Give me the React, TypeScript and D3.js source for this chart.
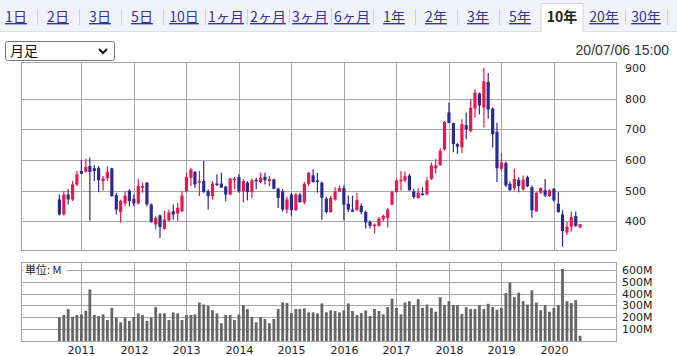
import React from "react";
import * as d3 from "d3";

const W = 677;
const H = 356;

const tabLabels = ["1日", "2日", "3日", "5日", "10日", "1ヶ月", "2ヶ月", "3ヶ月", "6ヶ月", "1年", "2年", "3年", "5年", "10年", "20年", "30年"];
const activeTab = "10年";
const periodLabel = "月足";
const timestamp = "20/07/06 15:00";
const volumeUnit = "単位: M";

const firstMonth = new Date(2010, 7, 1);
const months = d3.timeMonth.range(firstMonth, new Date(2020, 7, 1));

const openP = [471,422,487,471,520,564,562,580,573,573,531,540,573,485,430,458,500,473,458,509,526,455,389,419,375,403,433,425,433,498,542,561,526,531,498,482,523,523,513,487,535,544,498,526,495,535,528,545,531,537,506,498,438,487,436,487,462,522,550,533,526,474,430,471,497,508,457,438,436,450,430,398,384,385,407,411,454,495,530,533,549,497,476,490,488,538,573,584,634,755,720,652,641,714,695,768,817,771,855,768,692,571,590,522,508,535,504,544,511,432,493,501,482,506,457,422,363,382,417,380];
const highP = [487,498,504,531,564,600,604,608,583,580,548,578,575,493,471,498,504,487,539,526,528,458,416,422,433,438,455,460,498,558,575,564,564,597,504,531,553,558,515,542,545,553,537,531,539,542,558,558,548,539,509,504,481,493,493,493,528,561,570,558,530,479,483,511,517,517,484,484,492,458,435,403,393,414,422,443,500,538,564,562,555,506,508,511,544,592,603,638,728,787,722,655,733,755,798,830,820,900,884,771,722,623,595,530,571,544,549,549,517,497,511,538,504,508,495,436,398,432,432,392];
const lowP = [419,419,455,466,515,553,558,402,531,495,500,531,480,422,395,449,449,449,455,493,449,395,373,345,373,400,405,400,430,493,515,509,482,493,438,471,515,509,465,485,504,493,462,468,476,504,524,520,515,504,443,432,425,416,433,460,455,516,526,493,405,425,428,467,495,403,430,430,434,423,376,376,360,382,400,380,452,493,500,527,500,473,473,484,484,535,555,580,631,720,625,620,623,668,690,738,749,706,735,641,528,565,512,500,500,495,500,512,411,430,490,479,479,463,428,317,355,366,381,377];
const closeP = [422,487,471,520,553,555,577,561,564,534,540,561,482,438,466,484,466,458,515,515,455,397,411,381,405,429,422,444,484,544,569,520,531,495,482,523,520,510,487,539,539,498,531,495,534,531,542,534,537,506,476,438,471,436,487,462,522,558,528,528,477,430,476,497,508,454,438,431,470,430,396,385,389,409,418,438,495,533,536,547,501,479,493,485,533,582,582,630,724,721,652,644,717,700,771,820,778,857,765,684,573,592,517,501,538,515,536,514,436,493,508,484,501,468,430,368,382,414,385,390];
const volumeM = [200,220,270,205,220,225,255,435,220,210,225,178,280,198,158,198,170,203,233,220,170,198,286,233,233,178,242,233,178,220,220,225,325,308,297,260,233,150,220,220,178,225,303,270,203,158,203,186,150,186,270,325,320,236,270,270,275,242,242,233,317,242,258,253,242,260,317,253,220,236,258,211,270,253,225,286,358,280,225,325,336,303,353,280,308,280,247,370,303,336,303,303,228,286,270,270,303,270,314,286,264,280,405,492,370,408,336,308,428,325,260,303,247,280,303,608,336,320,345,44];

const yearTicks = [2011, 2012, 2013, 2014, 2015, 2016, 2017, 2018, 2019, 2020];
const priceGrid = [400, 500, 600, 700, 800];
const priceLabels = [400, 500, 600, 700, 800, 900];
const volumeTicks = [100, 200, 300, 400, 500, 600];

const UP = "#e8184c";
const DOWN = "#2a2a92";
const GRID = "#a6a6a6";
const LINK = "#34349c";

const plotL = 21;
const plotR = 616;
const priceT = 62;
const priceB = 250;
const volT = 262;
const volB = 341;

export default function App() {
  const x = d3.scaleTime().domain([new Date(2009, 10, 7), new Date(2021, 2, 8)]).range([plotL, plotR]);
  const y = d3.scaleLinear().domain([306, 920]).range([priceB, priceT]);
  const yv = d3.scaleLinear().domain([0, 667]).range([volB, volT]);
  const bodyW = 3.2;
  const barW = 2.8;

  return (
    <svg width={W} height={H} style={{ position: "absolute", left: 0, top: 0, background: "#fff" }}>
      {/* tab bar */}
      <rect x={0} y={0} width={W} height={31} fill="#f2f3f8" />
      <line x1={0} x2={W} y1={31.5} y2={31.5} stroke="#dcdde6" />
      {tabLabels.map((t, k) => {
        const cx = 16 + 42 * k;
        const active = t === activeTab;
        return (
          <g key={t}>
            {active && (
              <path d={`M${cx - 21},32 V3.5 H${cx + 21} V32`} fill="#fff" stroke="#d4d5de" />
            )}
            {!active && k < tabLabels.length - 1 && tabLabels[k + 1] !== activeTab && (
              <line x1={cx + 21.5} x2={cx + 21.5} y1={9} y2={25} stroke="#d0d0d8" />
            )}
            {k === tabLabels.length - 1 && (
              <line x1={cx + 21.5} x2={cx + 21.5} y1={9} y2={25} stroke="#d0d0d8" />
            )}
            <text
              x={cx}
              y={22}
              textAnchor="middle"
              fontFamily="'Noto Sans CJK JP', sans-serif"
              fontSize={14}
              fontWeight={active ? 700 : 400}
              fill={active ? "#222" : LINK}
              style={{ textDecoration: active ? "none" : "underline" }}
            >
              {t}
            </text>
          </g>
        );
      })}

      {/* dropdown */}
      <rect x={5.5} y={41.5} width={109} height={19} rx={2} fill="#fff" stroke="#767676" />
      <text x={10} y={56} fontFamily="'Noto Sans CJK JP', sans-serif" fontSize={14} fill="#111">
        {periodLabel}
      </text>
      <path d="M99,49 L103,53 L107,49" fill="none" stroke="#111" strokeWidth={2} />

      <text x={669} y={55} textAnchor="end" fontFamily="'Liberation Sans', Arial, sans-serif" fontSize={14} fill="#333">
        {timestamp}
      </text>

      {/* price panel */}
      <rect x={plotL + 0.5} y={priceT + 0.5} width={plotR - plotL} height={priceB - priceT} fill="#fff" stroke={GRID} />
      {priceGrid.map((p) => (
        <line key={p} x1={plotL} x2={plotR} y1={Math.round(y(p)) + 0.5} y2={Math.round(y(p)) + 0.5} stroke={GRID} />
      ))}
      {yearTicks.map((yr) => {
        const xx = Math.round(x(new Date(yr, 0, 1))) + 0.5;
        return (
          <g key={yr}>
            <line x1={xx} x2={xx} y1={priceT} y2={priceB} stroke={GRID} />
            <line x1={xx} x2={xx} y1={volT} y2={volB} stroke={GRID} />
            <text x={xx} y={354} textAnchor="middle" fontFamily="'DejaVu Sans', sans-serif" fontSize={11} fill="#222">
              {yr}
            </text>
          </g>
        );
      })}
      {priceLabels.map((p) => (
        <text key={p} x={625} y={y(p) + 4} fontFamily="'DejaVu Sans', sans-serif" fontSize={11} fill="#222">
          {p}
        </text>
      ))}

      {months.map((m, i) => {
        const cx = x(m);
        const o = openP[i];
        const c = closeP[i];
        const up = c >= o;
        const col = up ? UP : DOWN;
        const top = y(Math.max(o, c));
        const bot = y(Math.min(o, c));
        return (
          <g key={i}>
            <line x1={cx} x2={cx} y1={y(highP[i])} y2={y(lowP[i])} stroke={col} strokeWidth={1.2} />
            <rect x={cx - bodyW / 2} y={top} width={bodyW} height={Math.max(1.5, bot - top)} fill={col} />
          </g>
        );
      })}

      {/* volume panel */}
      <rect x={plotL + 0.5} y={volT + 0.5} width={plotR - plotL} height={volB - volT} fill="none" stroke={GRID} />
      {volumeTicks.map((v) => (
        <g key={v}>
          <line x1={plotL} x2={plotR} y1={Math.round(yv(v)) + 0.5} y2={Math.round(yv(v)) + 0.5} stroke={GRID} />
          <text x={622} y={yv(v) + 4} fontFamily="'DejaVu Sans', sans-serif" fontSize={11} fill="#222">
            {`${v}M`}
          </text>
        </g>
      ))}
      <rect x={23} y={264} width={44} height={13} fill="#fff" />
      <text x={25} y={274} fontFamily="'Noto Sans CJK JP', sans-serif" fontSize={11} fill="#222">
        {volumeUnit}
      </text>
      {months.map((m, i) => (
        <rect key={i} x={x(m) - barW / 2} y={yv(volumeM[i])} width={barW} height={yv(0) - yv(volumeM[i])} fill="#666" />
      ))}
    </svg>
  );
}
